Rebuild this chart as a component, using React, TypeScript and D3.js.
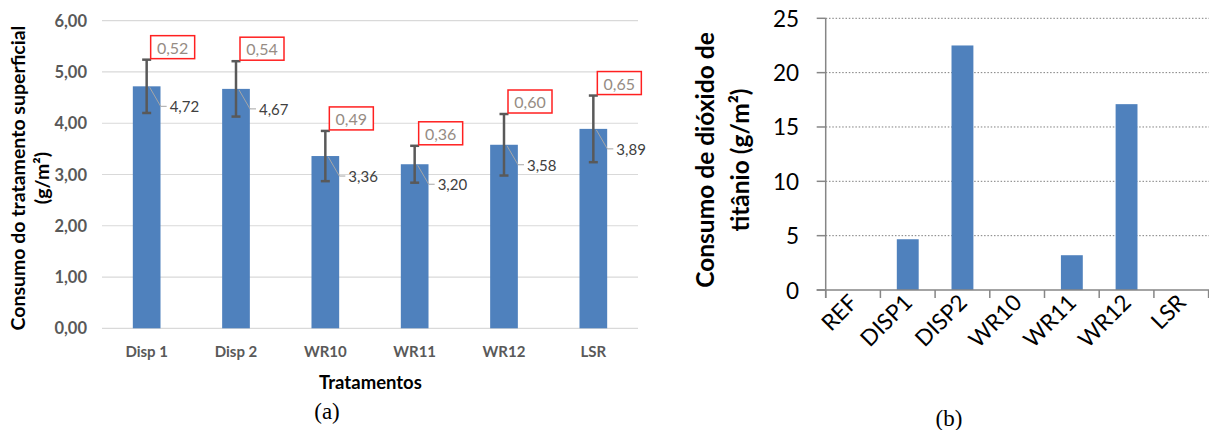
import React from "react";
import * as d3 from "d3";

// ---------- Chart (a) data ----------
const treatmentsA = ["Disp 1", "Disp 2", "WR10", "WR11", "WR12", "LSR"];
const consumptionA = [4.72, 4.67, 3.36, 3.2, 3.58, 3.89];
const errorsA = [0.52, 0.54, 0.49, 0.36, 0.6, 0.65];
const ticksA = [0, 1, 2, 3, 4, 5, 6];

// ---------- Chart (b) data ----------
const treatmentsB = ["REF", "DISP1", "DISP2", "WR10", "WR11", "WR12", "LSR"];
const consumptionB = [0, 4.67, 22.5, 0, 3.2, 17.1, 0];
const ticksB = [0, 5, 10, 15, 20, 25];

const fmt = (v: number) => v.toFixed(2).replace(".", ",");
const BAR = "#4f81bd";
const SANS = "Lato, 'Open Sans', sans-serif";
const SERIF = "'Liberation Serif', 'Times New Roman', serif";

export default function App() {
  // ----- scales (a) -----
  const xA = d3
    .scaleBand<string>()
    .domain(treatmentsA)
    .range([102, 638])
    .paddingInner(0.69)
    .paddingOuter(0.345);
  const yA = d3.scaleLinear().domain([0, 6]).range([328.3, 20.7]);

  // ----- scales (b) -----
  const xB = d3
    .scaleBand<string>()
    .domain(treatmentsB)
    .range([825.7, 1208.6])
    .paddingInner(0.6)
    .paddingOuter(0.3);
  const yB = d3.scaleLinear().domain([0, 25]).range([290, 18.3]);
  const stepB = xB.step();
  const leftB = 825.7;

  return (
    <svg
      width={1209}
      height={430}
      style={{ position: "absolute", left: 0, top: 0, background: "#fff" }}
    >
      {/* ================= Chart (a) ================= */}
      {ticksA.map((t) => (
        <g key={"ga" + t}>
          <line x1={102} x2={638} y1={yA(t)} y2={yA(t)} stroke="#d9d9d9" strokeWidth={1.2} />
          <text
            x={87}
            y={yA(t)}
            textAnchor="end"
            dominantBaseline="central"
            fontFamily={SANS}
            fontWeight="bold"
            fontSize={16.5}
            fill="#595959"
          >
            {fmt(t)}
          </text>
        </g>
      ))}
      {treatmentsA.map((c, i) => {
        const v = consumptionA[i];
        const e = errorsA[i];
        const x0 = xA(c)!;
        const w = xA.bandwidth();
        const cx = x0 + w / 2;
        const yTop = yA(v + e);
        const yBot = yA(v - e);
        const yBar = yA(v);
        const yLab = yBar + 20;
        return (
          <g key={"ba" + c}>
            <rect x={x0} y={yBar} width={w} height={yA(0) - yBar} fill={BAR} />
            {/* leader line */}
            <polyline
              points={`${cx + 3},${yBar + 1} ${cx + 14},${yLab} ${cx + 20},${yLab}`}
              fill="none"
              stroke="#a6a6a6"
              strokeWidth={1}
            />
            {/* error bar */}
            <line x1={cx} x2={cx} y1={yTop} y2={yBot} stroke="#595959" strokeWidth={2.5} />
            <line x1={cx - 4.5} x2={cx + 4.5} y1={yTop} y2={yTop} stroke="#595959" strokeWidth={2.5} />
            <line x1={cx - 4.5} x2={cx + 4.5} y1={yBot} y2={yBot} stroke="#595959" strokeWidth={2.5} />
            {/* value label */}
            <text
              x={cx + 23}
              y={yLab}
              dominantBaseline="central"
              fontFamily={SANS}
              fontSize={15}
              fill="#404040"
            >
              {fmt(v)}
            </text>
            {/* error label box */}
            <rect
              x={cx + 4}
              y={yTop - 24}
              width={44}
              height={23}
              fill="#fff"
              stroke="#ff2020"
              strokeWidth={1.5}
            />
            <text
              x={cx + 26}
              y={yTop - 12.5}
              textAnchor="middle"
              dominantBaseline="central"
              fontFamily={SANS}
              fontSize={16}
              fill="#968c84"
            >
              {fmt(e)}
            </text>
            {/* x tick label */}
            <text
              x={cx}
              y={351}
              textAnchor="middle"
              dominantBaseline="central"
              fontFamily={SANS}
              fontWeight="bold"
              fontSize={15}
              fill="#595959"
            >
              {c}
            </text>
          </g>
        );
      })}
      <text
        x={370.5}
        y={382}
        textAnchor="middle"
        dominantBaseline="central"
        fontFamily={SANS}
        fontWeight="bold"
        fontSize={18.5}
        fill="#000"
      >
        Tratamentos
      </text>
      <g transform="translate(25,178) rotate(-90)">
        <text textAnchor="middle" fontFamily={SANS} fontWeight="bold" fontSize={19.5} fill="#000" y={0}>
          Consumo do tratamento superficial
        </text>
        <text textAnchor="middle" fontFamily={SANS} fontWeight="bold" fontSize={19.5} fill="#000" y={24}>
          (g/m²)
        </text>
      </g>
      <text x={327} y={419} textAnchor="middle" fontFamily={SERIF} fontSize={23} fill="#000">
        (a)
      </text>

      {/* ================= Chart (b) ================= */}
      {ticksB.map((t) => (
        <g key={"gb" + t}>
          {t > 0 && (
            <line
              x1={leftB}
              x2={1209}
              y1={yB(t)}
              y2={yB(t)}
              stroke="#7f7f7f"
              strokeWidth={1}
              strokeDasharray="1.5 1.8"
            />
          )}
          <line x1={816.7} x2={leftB} y1={yB(t)} y2={yB(t)} stroke="#868686" strokeWidth={1.5} />
          <text
            x={799}
            y={yB(t)}
            textAnchor="end"
            dominantBaseline="central"
            fontFamily={SANS}
            fontSize={22.5}
            fill="#000"
          >
            {t}
          </text>
        </g>
      ))}
      {treatmentsB.map((c, i) => {
        const v = consumptionB[i];
        const x0 = xB(c)!;
        const w = xB.bandwidth();
        const cx = x0 + w / 2;
        return (
          <g key={"bb" + c}>
            {v > 0 && <rect x={x0} y={yB(v)} width={w} height={yB(0) - yB(v)} fill={BAR} />}
            <text
              transform={`translate(${cx + 6},${304}) rotate(-45)`}
              textAnchor="end"
              fontFamily={SANS}
              fontSize={22.5}
              fill="#000"
            >
              {c}
            </text>
          </g>
        );
      })}
      {treatmentsB.concat([""]).map((_, i) => (
        <line
          key={"tb" + i}
          x1={leftB + i * stepB}
          x2={leftB + i * stepB}
          y1={290}
          y2={298}
          stroke="#868686"
          strokeWidth={1.5}
        />
      ))}
      <line x1={leftB} x2={leftB} y1={18.3} y2={298} stroke="#868686" strokeWidth={1.5} />
      <line x1={816.7} x2={1209} y1={290} y2={290} stroke="#868686" strokeWidth={1.5} />
      <g transform="translate(714,160) rotate(-90)">
        <text textAnchor="middle" fontFamily={SANS} fontWeight="bold" fontSize={24.5} fill="#000" y={0}>
          Consumo de dióxido de
        </text>
        <text textAnchor="middle" fontFamily={SANS} fontWeight="bold" fontSize={24.5} fill="#000" y={35}>
          titânio (g/m²)
        </text>
      </g>
      <text x={949} y={426} textAnchor="middle" fontFamily={SERIF} fontSize={23} fill="#000">
        (b)
      </text>
    </svg>
  );
}
